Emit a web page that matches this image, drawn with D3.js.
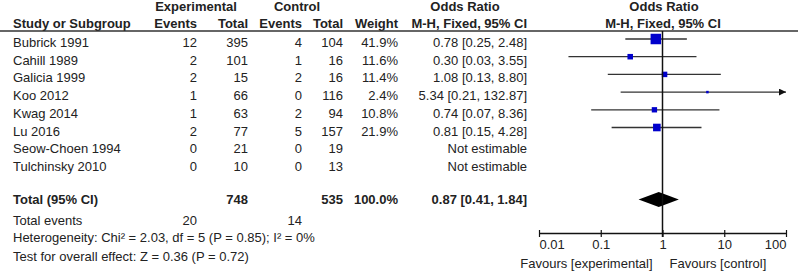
<!DOCTYPE html>
<html>
<head>
<meta charset="utf-8">
<script src="https://cdn.jsdelivr.net/npm/d3@7"></script>
<style>
  body { margin: 0; background: #fff; }
  svg text { font-family: "Liberation Sans", Arial, sans-serif; font-size: 13px; fill: #222; }
  .b { font-weight: bold; }
</style>
</head>
<body>
<div id="chart"></div>
<script>
// study data
const studies = ["Bubrick 1991", "Cahill 1989", "Galicia 1999", "Koo 2012", "Kwag 2014", "Lu 2016", "Seow-Choen 1994", "Tulchinsky 2010"];
const expEvents = [12, 2, 2, 1, 1, 2, 0, 0];
const expTotal = [395, 101, 15, 66, 63, 77, 21, 10];
const ctlEvents = [4, 1, 2, 0, 2, 5, 0, 0];
const ctlTotal = [104, 16, 16, 116, 94, 157, 19, 13];
const weights = [41.9, 11.6, 11.4, 2.4, 10.8, 21.9, null, null];
const oddsRatio = [0.78, 0.30, 1.08, 5.34, 0.74, 0.81, null, null];
const ciLow = [0.25, 0.03, 0.13, 0.21, 0.07, 0.15, null, null];
const ciHigh = [2.48, 3.55, 8.80, 132.87, 8.36, 4.28, null, null];

const total = { label: "Total (95% CI)", expTotal: 748, ctlTotal: 535, weight: "100.0%", or: 0.87, lo: 0.41, hi: 1.84 };
const totalEvents = [20, 14];
const hetText = "Heterogeneity: Chi² = 2.03, df = 5 (P = 0.85); I² = 0%";
const effectText = "Test for overall effect: Z = 0.36 (P = 0.72)";
const axisTicks = [0.01, 0.1, 1, 10, 100];

const width = 800, height = 271;
const svg = d3.select("#chart").append("svg")
    .attr("width", width)
    .attr("height", height);

const fmt = d3.format(".2f");

// column x positions
const cx = { study: 13, expEv: 197, expTot: 248, ctlEv: 302, ctlTot: 343, weight: 398, or: 527 };

const x = d3.scaleLog().domain([0.01, 100]).range([539, 786]);
const boxSize = d3.scaleSqrt().domain([0, 41.9]).range([0, 10.5]);

const rowY = i => 41 + i * 17.7;

function txt(xp, yp, s, anchor, bold) {
    return svg.append("text")
        .attr("x", xp).attr("y", yp)
        .attr("dy", "0.35em")
        .attr("text-anchor", anchor || "start")
        .attr("class", bold ? "b" : null)
        .text(s);
}

// headers
txt(196, 6, "Experimental", "middle", true);
txt(297, 6, "Control", "middle", true);
txt(465, 6, "Odds Ratio", "middle", true);
txt(664, 6, "Odds Ratio", "middle", true);
txt(cx.study, 23, "Study or Subgroup", "start", true);
txt(cx.expEv, 23, "Events", "end", true);
txt(cx.expTot, 23, "Total", "end", true);
txt(cx.ctlEv, 23, "Events", "end", true);
txt(cx.ctlTot, 23, "Total", "end", true);
txt(cx.weight, 23, "Weight", "end", true);
txt(cx.or, 23, "M-H, Fixed, 95% CI", "end", true);
txt(663, 23, "M-H, Fixed, 95% CI", "middle", true);

svg.append("line")
    .attr("x1", 0).attr("x2", 798)
    .attr("y1", 31).attr("y2", 31)
    .attr("stroke", "#333").attr("stroke-width", 1.5);

// table rows
studies.forEach((s, i) => {
    const y = rowY(i) + 1.5;
    txt(cx.study, y, s);
    txt(cx.expEv, y, expEvents[i], "end");
    txt(cx.expTot, y, expTotal[i], "end");
    txt(cx.ctlEv, y, ctlEvents[i], "end");
    txt(cx.ctlTot, y, ctlTotal[i], "end");
    if (weights[i] != null) {
        txt(cx.weight, y, weights[i].toFixed(1) + "%", "end");
        txt(cx.or, y, `${fmt(oddsRatio[i])} [${fmt(ciLow[i])}, ${fmt(ciHigh[i])}]`, "end");
    } else {
        txt(cx.or, y, "Not estimable", "end");
    }
});

const yTot = 199.5;
txt(cx.study, yTot, total.label, "start", true);
txt(cx.expTot, yTot, total.expTotal, "end", true);
txt(cx.ctlTot, yTot, total.ctlTotal, "end", true);
txt(cx.weight, yTot, total.weight, "end", true);
txt(cx.or, yTot, `${fmt(total.or)} [${fmt(total.lo)}, ${fmt(total.hi)}]`, "end", true);

txt(cx.study, 220, "Total events");
txt(cx.expEv, 220, totalEvents[0], "end");
txt(cx.ctlEv, 220, totalEvents[1], "end");
txt(cx.study, 237.5, hetText);
txt(cx.study, 256, effectText);

// forest plot
svg.append("defs").append("marker")
    .attr("id", "arrow")
    .attr("viewBox", "0 0 10 10")
    .attr("refX", 10).attr("refY", 5)
    .attr("markerWidth", 7).attr("markerHeight", 7)
    .attr("markerUnits", "userSpaceOnUse")
    .attr("orient", "auto")
    .append("path")
    .attr("d", "M0,0L10,5L0,10z")
    .attr("fill", "#111");

const plot = svg.append("g");

studies.forEach((s, i) => {
    if (oddsRatio[i] == null) return;
    const y = rowY(i) - 2;
    const hiClip = Math.min(ciHigh[i], 100);
    plot.append("line")
        .attr("x1", x(ciLow[i])).attr("x2", x(hiClip))
        .attr("y1", y).attr("y2", y)
        .attr("stroke", "#333").attr("stroke-width", 1.3)
        .attr("marker-end", ciHigh[i] > 100 ? "url(#arrow)" : null);
    const sz = boxSize(weights[i]);
    plot.append("rect")
        .attr("x", x(oddsRatio[i]) - sz / 2)
        .attr("y", y - sz / 2)
        .attr("width", sz).attr("height", sz)
        .attr("fill", "#0000cc");
});

// diamond
const dh = 7.5;
plot.append("path")
    .attr("d", `M${x(total.lo)},${yTot}L${x(total.or)},${yTot - dh}L${x(total.hi)},${yTot}L${x(total.or)},${yTot + dh}Z`)
    .attr("fill", "#000");

// line of no effect
plot.append("line")
    .attr("x1", x(1)).attr("x2", x(1))
    .attr("y1", 31).attr("y2", 237)
    .attr("stroke", "#111").attr("stroke-width", 1.5);

// axis
const axisY = 233.5;
const axis = svg.append("g")
    .attr("transform", `translate(0,${axisY - 3.5})`)
    .call(d3.axisBottom(x).tickValues(axisTicks).tickSize(7).tickFormat(d3.format("~g")));
axis.select(".domain").remove();
axis.selectAll(".tick line").attr("stroke", "#111").attr("stroke-width", 1.2);
axis.selectAll(".tick text")
    .attr("y", 14)
    .attr("dy", "0.35em")
    .style("font-size", "13px")
    .style("font-family", null)
    .attr("text-anchor", (d, i) => i === 0 ? "start" : (i === axisTicks.length - 1 ? "end" : "middle"));
axis.attr("font-family", null).attr("font-size", null);

svg.append("line")
    .attr("x1", x.range()[0]).attr("x2", x.range()[1])
    .attr("y1", axisY).attr("y2", axisY)
    .attr("stroke", "#111").attr("stroke-width", 1.3);

txt(x(1) - 10, 263, "Favours [experimental]", "end");
txt(x(1) + 7, 263, "Favours [control]", "start");
</script>
</body>
</html>
